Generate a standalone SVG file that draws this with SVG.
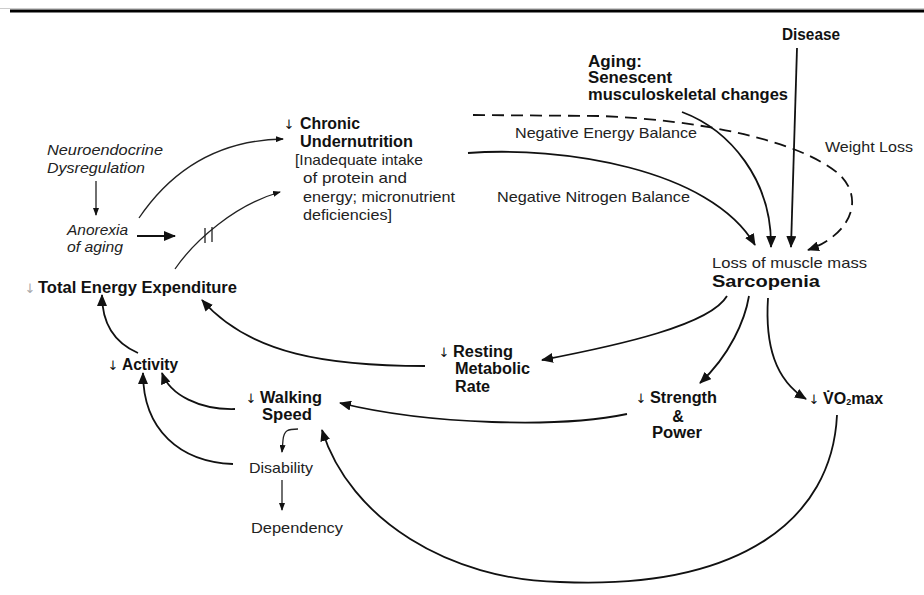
<svg xmlns="http://www.w3.org/2000/svg" width="924" height="595" viewBox="0 0 924 595">
<style>
text{font-family:"Liberation Sans","DejaVu Sans",Arial,sans-serif;fill:#222;}
.r{font-size:15px;}
.b{font-size:16px;font-weight:bold;fill:#111;}
.i{font-size:15px;font-style:italic;}
.ar{font-family:"DejaVu Sans",sans-serif;font-size:13px;fill:#111;text-anchor:middle;}
.c{fill:none;stroke:#111;stroke-width:1.8;}
.t{fill:none;stroke:#222;stroke-width:1.3;}
</style>
<defs>
<marker id="ah" markerUnits="userSpaceOnUse" markerWidth="12" markerHeight="10" refX="11" refY="5" orient="auto"><path d="M0,0 L12,5 L0,10 z" fill="#111"/></marker>
<marker id="as" markerUnits="userSpaceOnUse" markerWidth="8" markerHeight="6" refX="7" refY="3" orient="auto"><path d="M0,0 L8,3 L0,6 z" fill="#111"/></marker>
</defs>
<rect width="924" height="595" fill="#fff"/>
<line x1="0" y1="8.5" x2="924" y2="8.5" stroke="#ccc" stroke-width="1"/>
<line x1="10" y1="11" x2="924" y2="11" stroke="#000" stroke-width="3"/>

<g id="connectors">
<path class="t" d="M96,181 L96,215" marker-end="url(#as)"/>
<path class="c" d="M137,236 L175,236" marker-end="url(#ah)"/>
<path class="t" d="M139,218 C175,165 225,140 283,139" marker-end="url(#as)"/>
<path class="t" d="M175,269 C195,240 235,205 280,192" marker-end="url(#as)"/>
<line class="t" x1="205" y1="228" x2="205" y2="243"/>
<line class="t" x1="212" y1="227" x2="212" y2="242"/>
<path class="c" d="M468,153 C560,146 710,168 755,245" marker-end="url(#ah)"/>
<path class="c" d="M473,115 L600,116 C700,120 800,140 840,175 C865,200 850,235 808,250" stroke-dasharray="12 7" marker-end="url(#ah)"/>
<path class="c" d="M682,112 C730,130 772,180 771,247" marker-end="url(#ah)"/>
<path class="c" d="M797,48 L791,247" marker-end="url(#ah)"/>
<path class="c" d="M727,296 C710,325 620,345 542,360" marker-end="url(#ah)"/>
<path class="c" d="M749,296 C745,320 730,355 700,383" marker-end="url(#ah)"/>
<path class="c" d="M768,298 C765,345 775,380 806,399" marker-end="url(#ah)"/>
<path class="c" d="M425,366 C330,366 250,355 202,300" marker-end="url(#ah)"/>
<path class="c" d="M627,414 C560,428 430,425 340,403" marker-end="url(#ah)"/>
<path class="c" d="M837,415 C832,520 740,590 560,582 C450,580 350,520 322,430" marker-end="url(#ah)"/>
<path class="c" d="M235,409 C200,410 170,395 162,373" marker-end="url(#ah)"/>
<path class="c" d="M233,464 C180,462 143,430 143,373" marker-end="url(#ah)"/>
<path class="c" d="M138,353 C115,343 102,325 102,295" marker-end="url(#ah)"/>
<path class="t" d="M298,429 C288,429 284,430 283,440 L282,452" marker-end="url(#as)"/>
<path class="t" d="M282,480 L282,510" marker-end="url(#as)"/>
</g>

<g id="neuro"><text class="i" x="47" y="155" textLength="116" lengthAdjust="spacingAndGlyphs">Neuroendocrine</text><text class="i" x="47" y="173" textLength="98" lengthAdjust="spacingAndGlyphs">Dysregulation</text></g>
<g id="anorexia"><text class="i" x="67" y="235" textLength="61" lengthAdjust="spacingAndGlyphs">Anorexia</text><text class="i" x="67" y="252" textLength="56" lengthAdjust="spacingAndGlyphs">of aging</text></g>
<g id="chronic">
<text class="ar" x="289" y="129">↓</text>
<text class="b" x="300" y="129" textLength="60" lengthAdjust="spacingAndGlyphs">Chronic</text>
<text class="b" x="300" y="147" textLength="113" lengthAdjust="spacingAndGlyphs">Undernutrition</text>
<text class="r" x="295" y="165" textLength="128" lengthAdjust="spacingAndGlyphs">[Inadequate intake</text>
<text class="r" x="303" y="183" textLength="104" lengthAdjust="spacingAndGlyphs">of protein and</text>
<text class="r" x="303" y="202" textLength="152" lengthAdjust="spacingAndGlyphs">energy; micronutrient</text>
<text class="r" x="303" y="220" textLength="89" lengthAdjust="spacingAndGlyphs">deficiencies]</text>
</g>
<g id="neb"><text class="r" x="515" y="138" textLength="182" lengthAdjust="spacingAndGlyphs">Negative Energy Balance</text></g>
<g id="nnb"><text class="r" x="497" y="202" textLength="193" lengthAdjust="spacingAndGlyphs">Negative Nitrogen Balance</text></g>
<g id="weightloss"><text class="r" x="825" y="152" textLength="88" lengthAdjust="spacingAndGlyphs">Weight Loss</text></g>
<g id="disease"><text class="b" x="782" y="40" textLength="58" lengthAdjust="spacingAndGlyphs">Disease</text></g>
<g id="aging">
<text class="b" x="588" y="67" textLength="54" lengthAdjust="spacingAndGlyphs">Aging:</text>
<text class="b" x="588" y="83" textLength="84" lengthAdjust="spacingAndGlyphs">Senescent</text>
<text class="b" x="588" y="100" textLength="200" lengthAdjust="spacingAndGlyphs">musculoskeletal changes</text>
</g>
<g id="sarcopenia">
<text class="r" x="712" y="268" textLength="155" lengthAdjust="spacingAndGlyphs">Loss of muscle mass</text>
<text class="b" x="712" y="287" textLength="108" lengthAdjust="spacingAndGlyphs">Sarcopenia</text>
</g>
<g id="tee">
<text class="ar" x="30" y="293" style="fill:#aaa">↓</text>
<text class="b" x="38" y="293" textLength="199" lengthAdjust="spacingAndGlyphs">Total Energy Expenditure</text>
</g>
<g id="activity"><text class="ar" x="113" y="370">↓</text><text class="b" x="122" y="370" textLength="56" lengthAdjust="spacingAndGlyphs">Activity</text></g>
<g id="walking">
<text class="ar" x="251" y="403">↓</text>
<text class="b" x="260" y="403" textLength="62" lengthAdjust="spacingAndGlyphs">Walking</text>
<text class="b" x="262" y="420" textLength="50" lengthAdjust="spacingAndGlyphs">Speed</text>
</g>
<g id="disability"><text class="r" x="249" y="473" textLength="64" lengthAdjust="spacingAndGlyphs">Disability</text></g>
<g id="dependency"><text class="r" x="251" y="533" textLength="92" lengthAdjust="spacingAndGlyphs">Dependency</text></g>
<g id="resting">
<text class="ar" x="444" y="357">↓</text>
<text class="b" x="453" y="357" textLength="60" lengthAdjust="spacingAndGlyphs">Resting</text>
<text class="b" x="455" y="374" textLength="75" lengthAdjust="spacingAndGlyphs">Metabolic</text>
<text class="b" x="455" y="392" textLength="35" lengthAdjust="spacingAndGlyphs">Rate</text>
</g>
<g id="strength">
<text class="ar" x="641" y="403">↓</text>
<text class="b" x="650" y="403" textLength="67" lengthAdjust="spacingAndGlyphs">Strength</text>
<text class="b" x="678" y="422" text-anchor="middle">&amp;</text>
<text class="b" x="652" y="438" textLength="50" lengthAdjust="spacingAndGlyphs">Power</text>
</g>
<g id="vo2max">
<text class="ar" x="814" y="404">↓</text>
<text class="b" x="823" y="404">V̇O<tspan font-size="9" dy="1">2</tspan><tspan dy="-1">max</tspan></text>
</g>
</svg>
